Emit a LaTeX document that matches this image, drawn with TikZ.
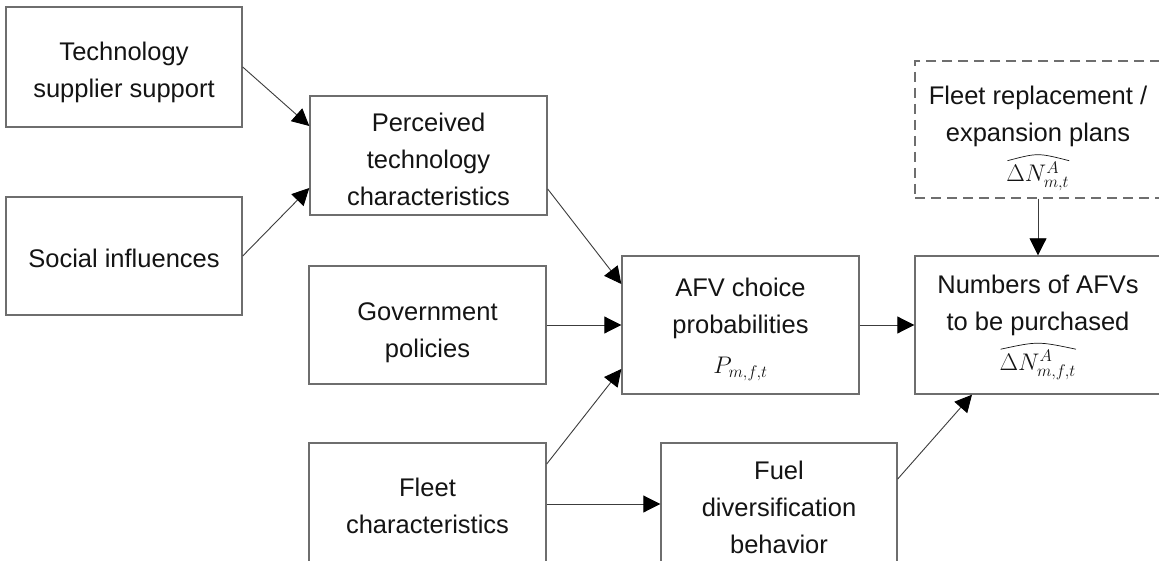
\RequirePackage{fix-cm}
\documentclass[tikz,border=0pt]{standalone}
\usepackage{fontspec}
\setmainfont{Liberation Sans}
\usetikzlibrary{arrows.meta}

\definecolor{boxline}{HTML}{6E6E6E}
\definecolor{linkline}{HTML}{3C3C3C}
\definecolor{ink}{HTML}{141414}

% formula line, a little smaller than the box text
\newcommand{\fml}[1]{{\fontsize{24}{28}\selectfont$#1$}}
% wide arched hat over a whole expression
\newcommand{\archat}[1]{%
  \tikz[baseline=(hb.base)]{%
    \node[draw=none, fill=none, inner sep=0pt, outer sep=0pt,
      minimum width=0pt, minimum height=0pt, align=left] (hb) {$#1$};
    \draw[draw=ink, solid, line width=0.7pt]
      ([xshift=1pt,yshift=1pt]hb.north west)
      .. controls ([yshift=9pt]hb.north) ..
      ([yshift=1pt]hb.north east);}}
% taller first line: pushes the text block down by #1
\newcommand{\dropby}[1]{\rule{0pt}{\dimexpr 19pt+#1*2\relax}}

\tikzset{
  box/.style={draw=boxline, line width=1.4pt, rectangle, align=center,
    inner sep=0pt, text=ink, font=\fontsize{25.5}{37}\selectfont},
  planbox/.style={box, dash pattern=on 10pt off 6pt},
  link/.style={draw=linkline, line width=0.9pt,
    -{Triangle[length=17pt,width=17pt,color=black]}},
}

\begin{document}
\begin{tikzpicture}[x=1pt,y=-1pt]
  \clip (0,0) rectangle (1159,561);
  \fill[white] (0,0) rectangle (1159,561);

  % influencing factors
  \node[box, minimum width=236pt, minimum height=120pt] (tech) at (124,67)
    {\dropby{5pt}Technology\\supplier support};
  \node[box, minimum width=236pt, minimum height=118pt] (social) at (124,256)
    {\dropby{2pt}Social influences};
  \node[box, minimum width=237pt, minimum height=119pt] (perc) at (428.5,155.5)
    {\dropby{4pt}Perceived\\technology\\characteristics};
  \node[box, minimum width=237pt, minimum height=118pt] (gov) at (427.5,325)
    {\dropby{7pt}Government\\policies};
  \node[box, minimum width=237pt, minimum height=126pt] (fleet) at (427.5,506)
    {Fleet\\characteristics};

  % choice model and outcomes
  \node[box, minimum width=237pt, minimum height=138pt] (afv) at (740.5,325)
    {\dropby{4pt}AFV choice\\probabilities\\[3pt]\fml{P_{m,f,t}}};
  \node[box, minimum width=236pt, minimum height=128pt] (fuel) at (779,507)
    {Fuel\\diversification\\behavior};
  \node[planbox, minimum width=246pt, minimum height=137pt] (plan) at (1038,129.5)
    {\dropby{9pt}Fleet replacement /\\expansion plans\\[3pt]\fml{\archat{\Delta N^{A}_{m,t}}}};
  \node[box, minimum width=246pt, minimum height=138pt] (num) at (1038,325)
    {\dropby{2pt}Numbers of AFVs\\to be purchased\\[3pt]\fml{\archat{\Delta N^{A}_{m,f,t}}}};

  % connectors
  \draw[link] (tech.east) -- ([yshift=29.5pt]perc.west);
  \draw[link] (social.east) -- ([yshift=-32.5pt]perc.west);
  \draw[link] ([yshift=-33.5pt]perc.east) -- ([yshift=41pt]afv.west);
  \draw[link] (gov.east) -- (afv.west);
  \draw[link] ([yshift=42pt]fleet.east) -- ([yshift=-44pt]afv.west);
  \draw[link] ([yshift=2pt]fleet.east) -- ([yshift=2pt]fleet.east -| fuel.west);
  \draw[link] (afv.east) -- (num.west);
  \draw[link] (plan.south) -- (num.north);
  \draw[link] ([yshift=28pt]fuel.east) -- ([xshift=-66pt]num.south);
\end{tikzpicture}
\end{document}
